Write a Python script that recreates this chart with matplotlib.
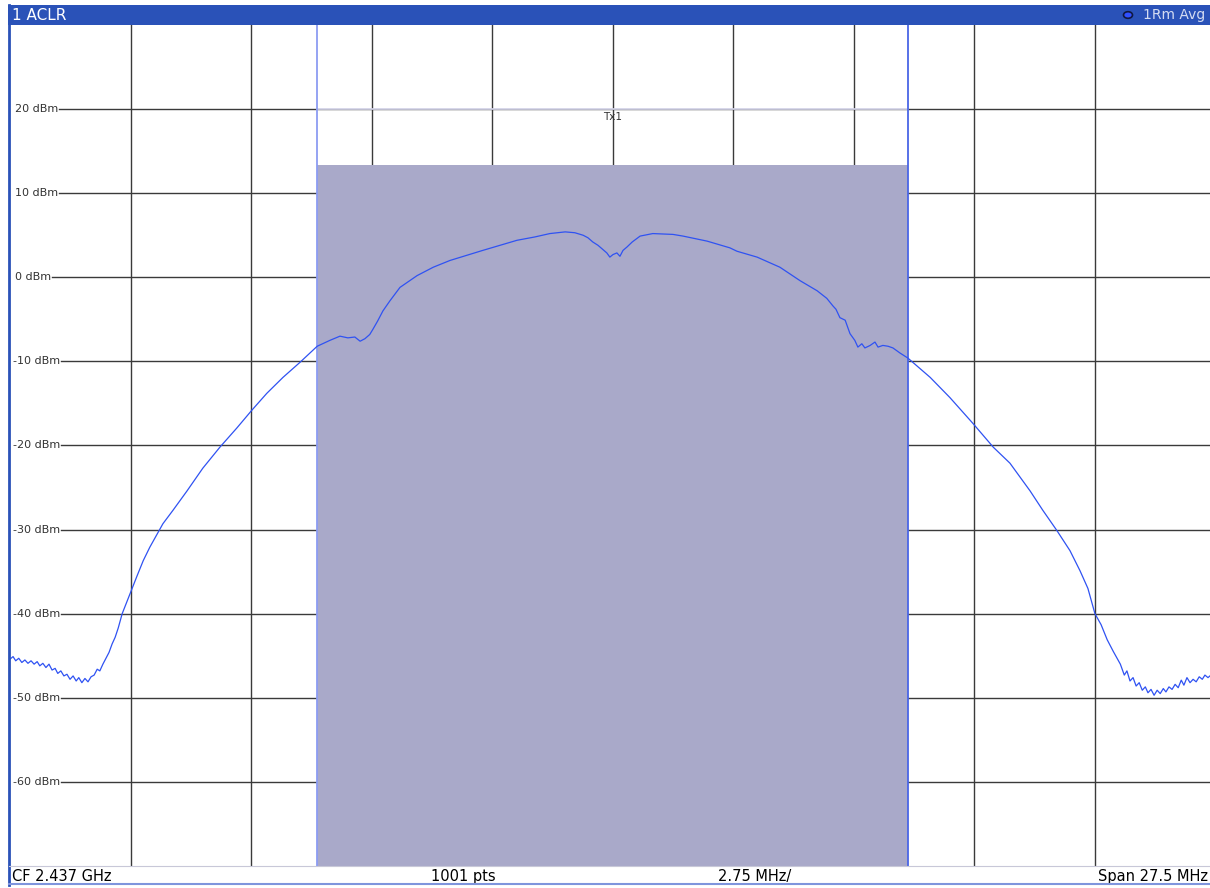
import matplotlib.pyplot as plt
from matplotlib.patches import Rectangle, Circle

# trace: offset from CF in MHz, level in dBm
freq_mhz = [
    -13.75, -13.68, -13.62, -13.55, -13.48, -13.41, -13.34, -13.27, -13.20, -13.13,
    -13.07, -13.00, -12.93, -12.86, -12.79, -12.72, -12.66, -12.59, -12.52, -12.45,
    -12.38, -12.31, -12.24, -12.18, -12.11, -12.04, -11.97, -11.90, -11.83, -11.76,
    -11.70, -11.63, -11.56, -11.49, -11.42, -11.35, -11.28, -11.19, -11.10, -11.01,
    -10.85, -10.71, -10.56, -10.26, -10.03, -9.71, -9.35, -8.96, -8.57, -8.23,
    -7.89, -7.52, -7.13, -6.84, -6.74, -6.45,
    -6.22, -6.04, -5.88, -5.76, -5.65, -5.54, -5.47, -5.36, -5.24, -5.08,
    -4.85, -4.46, -4.09, -3.71, -2.96, -2.57, -2.18, -1.77, -1.43, -1.08, -0.86, -0.67, -0.56,
    -0.45, -0.33, -0.22, -0.13, -0.06, 0.01, 0.10, 0.17, 0.24, 0.33,
    0.45, 0.63, 0.92, 1.38, 1.61, 2.16, 2.68, 2.84, 3.30, 3.82, 4.28, 4.67,
    4.89, 5.03, 5.10, 5.19, 5.31, 5.42, 5.53, 5.60, 5.69, 5.76, 5.88, 5.99,
    6.06, 6.17, 6.29, 6.40, 6.56, 6.74, 7.25, 7.70, 8.23, 8.69, 9.07, 9.53, 9.82, 10.14,
    10.44, 10.67, 10.85, 11.01, 11.15, 11.29, 11.43, 11.59, 11.68, 11.74, 11.81, 11.88,
    11.95, 12.02, 12.09, 12.16, 12.22, 12.29, 12.36, 12.43, 12.50, 12.57,
    12.63, 12.70, 12.77, 12.84, 12.91, 12.98, 13.04, 13.11, 13.18, 13.25,
    13.32, 13.39, 13.46, 13.52, 13.59, 13.68, 13.75,
]
level_dbm = [
    -45.4, -45.1, -45.6, -45.3, -45.8, -45.5, -45.9, -45.6, -46.0, -45.7,
    -46.2, -45.9, -46.4, -46.0, -46.7, -46.5, -47.1, -46.8, -47.4, -47.2,
    -47.8, -47.4, -48.0, -47.6, -48.2, -47.7, -48.1, -47.5, -47.3, -46.6,
    -46.8, -46.0, -45.3, -44.6, -43.6, -42.8, -41.7, -40.0, -38.8, -37.6,
    -35.5, -33.7, -32.1, -29.3, -27.7, -25.4, -22.7, -20.2, -17.9, -15.8,
    -13.8, -11.9, -10.1, -8.7, -8.2, -7.5,
    -7.0, -7.2, -7.1, -7.6, -7.3, -6.8, -6.2, -5.2, -4.0, -2.8,
    -1.2, 0.2, 1.2, 2.0, 3.2, 3.8, 4.4, 4.8, 5.2, 5.4, 5.3, 5.0, 4.7,
    4.2, 3.8, 3.3, 2.9, 2.4, 2.7, 2.9, 2.5, 3.2, 3.6,
    4.2, 4.9, 5.2, 5.1, 4.9, 4.3, 3.5, 3.1, 2.4, 1.2, -0.4, -1.6,
    -2.5, -3.4, -3.8, -4.8, -5.1, -6.7, -7.5, -8.3, -7.9, -8.4, -8.1, -7.7,
    -8.3, -8.1, -8.2, -8.4, -9.0, -9.6, -11.9, -14.3, -17.4, -20.2, -22.1, -25.4, -27.7, -30.1,
    -32.5, -34.9, -37.0, -40.0, -41.3, -43.1, -44.5, -46.0, -47.3, -46.8, -48.0, -47.6,
    -48.6, -48.2, -49.1, -48.7, -49.4, -49.0, -49.7, -49.1, -49.5, -48.9,
    -49.3, -48.7, -49.0, -48.4, -48.8, -47.9, -48.5, -47.6, -48.2, -47.8,
    -48.1, -47.5, -47.8, -47.3, -47.6, -47.2, -47.4,
]

span_mhz = 27.5
tx_bw_mhz = 13.5
tx_top_dbm = 13.3
ref_levels = [20, 10, 0, -10, -20, -30, -40, -50, -60]

W, H = 1210, 888
fig = plt.figure(figsize=(W / 100, H / 100), dpi=100)
fig.patch.set_facecolor('white')

def fx(px):
    return px / W

def fy(py):
    return 1 - py / H

# plot area: x from px 10 to 1215 (slightly past the right edge), y from px 25 to 866
ax = fig.add_axes([fx(10), fy(866), 1205 / W, 841 / H])
ax.set_xlim(-span_mhz / 2, span_mhz / 2)
ax.set_ylim(-70, 30)
ax.axis('off')

# vertical grid, one line per division
div = span_mhz / 10
for k in range(1, 10):
    ax.axvline(-span_mhz / 2 + k * div, color='#3a3a3a', lw=1.0, zorder=1)

# level labels; the grid line starts right after each label
labels = []
for lv in ref_levels:
    x0 = 3 / 1205 if lv < 0 else 5 / 1205
    t = ax.text(x0, lv, f'{lv} dBm', fontsize=8, color='#333333',
                va='center', ha='left', zorder=3, transform=ax.get_yaxis_transform())
    labels.append((lv, t))
fig.canvas.draw()
inv = ax.transAxes.inverted()
for lv, t in labels:
    bb = t.get_window_extent()
    xstart = inv.transform((bb.x1 + 1, 0))[0]
    ax.axhline(lv, xmin=xstart, color='#3a3a3a', lw=1.0, zorder=1)

# Tx channel bar
ax.add_patch(Rectangle((-tx_bw_mhz / 2, -70), tx_bw_mhz, tx_top_dbm + 70,
                       facecolor='#a9a9c9', edgecolor='none', zorder=2))
ax.plot([-tx_bw_mhz / 2, tx_bw_mhz / 2], [20, 20], color='#d9d9ee', lw=1.2, zorder=2.2)
ax.axvline(-tx_bw_mhz / 2, color='#8c9cf2', lw=1.3, zorder=2.5)
ax.axvline(tx_bw_mhz / 2, color='#4a66e6', lw=1.3, zorder=2.5)
ax.text(0, 19.1, 'Tx1', fontsize=7.5, color='#333333', ha='center', va='center', zorder=3)

# trace
ax.plot(freq_mhz, level_dbm, color='#2f52f2', lw=0.9, zorder=4)

# title bar
fig.patches.append(Rectangle((fx(8), fy(25)), 1 - fx(8), 20 / H, transform=fig.transFigure,
                             facecolor='#2a52b8', edgecolor='none', zorder=5))
fig.text(fx(12), fy(15), '1 ACLR', color='white', fontsize=11, va='center', ha='left', zorder=6)
fig.text(fx(1205), fy(15), '1Rm Avg', color='#d4dcf2', fontsize=10, va='center', ha='right', zorder=6)
fig.patches.append(Circle((fx(1128), fy(15)), 4.5 / W, transform=fig.transFigure,
                          facecolor='#3050ff', edgecolor='#101840', lw=1.2, zorder=6))

# left frame and footer line
fig.add_artist(plt.Line2D([fx(9), fx(9)], [fy(5), fy(885)], color='#2a52b8', lw=2, zorder=6))
fig.add_artist(plt.Line2D([fx(9), 1], [fy(866), fy(866)], color='#c8c8d8', lw=0.8, zorder=6))
fig.add_artist(plt.Line2D([fx(9), 1], [fy(884), fy(884)], color='#7f95dd', lw=1.5, zorder=6))

# footer texts
narrow = ['Liberation Sans Narrow', 'DejaVu Sans']
fy_foot = fy(876)
fig.text(fx(12), fy_foot, 'CF 2.437 GHz', fontsize=10.5, family=narrow, va='center', ha='left')
fig.text(fx(463), fy_foot, '1001 pts', fontsize=10.5, family=narrow, va='center', ha='center')
fig.text(fx(755), fy_foot, '2.75 MHz/', fontsize=10.5, family=narrow, va='center', ha='center')
fig.text(fx(1208), fy_foot, 'Span 27.5 MHz', fontsize=10.5, family=narrow, va='center', ha='right')

plt.savefig('out.png', dpi=100)
